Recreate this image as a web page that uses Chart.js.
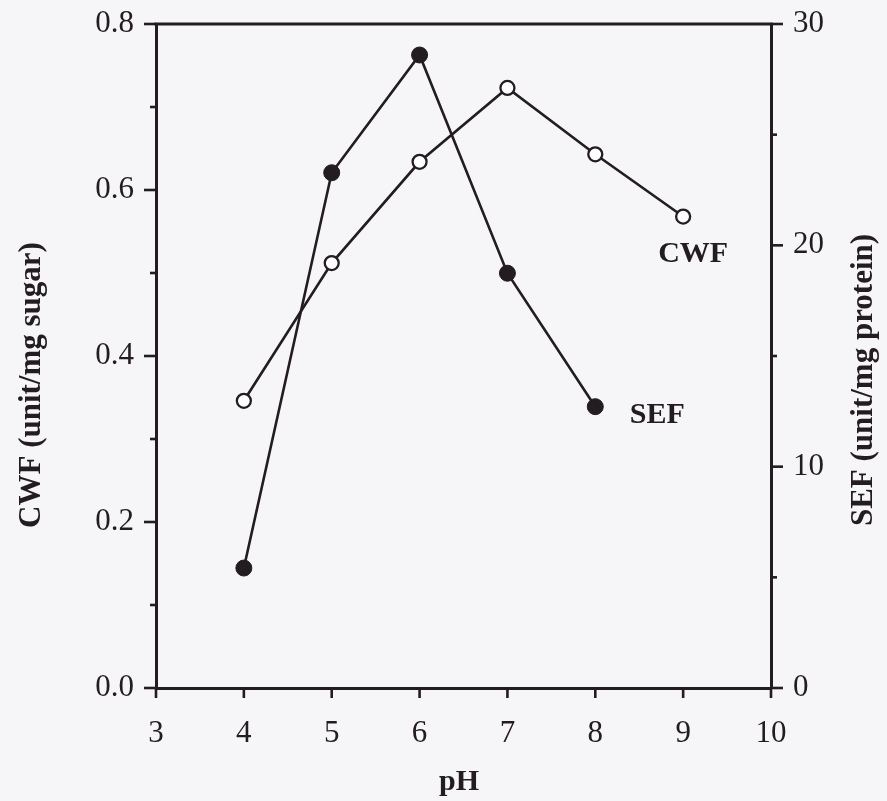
<!DOCTYPE html>
<html><head><meta charset="utf-8">
<script src="https://cdn.jsdelivr.net/npm/chart.js@4.4.1/dist/chart.umd.min.js"></script>
<style>html,body{margin:0;padding:0;background:#f6f6f8;} #wrap{width:887px;height:801px;position:relative;}</style>
</head><body><div id="wrap"><canvas id="c" width="887" height="801"></canvas></div>
<script>
// ---- data ----
const phCWF = [4, 5, 6, 7, 8, 9];
const cwfValues = [0.346, 0.512, 0.634, 0.723, 0.643, 0.568];
const phSEF = [4, 5, 6, 7, 8];
const sefValues = [5.42, 23.28, 28.6, 18.74, 12.71];
const xTickLabels = ['3', '4', '5', '6', '7', '8', '9', '10'];
const leftTickLabels = ['0.0', '0.2', '0.4', '0.6', '0.8'];
const rightTickLabels = ['0', '10', '20', '30'];
const seriesNames = ['CWF', 'SEF'];
const xTitle = 'pH';
const leftTitle = 'CWF (unit/mg sugar)';
const rightTitle = 'SEF (unit/mg protein)';

const INK = '#231c20';
const BG = '#f6f6f8';
const FONT = "'Liberation Serif', 'DejaVu Serif', serif";

const decor = {
  id: 'decor',
  beforeDraw(chart) {
    const ctx = chart.ctx;
    ctx.save();
    ctx.fillStyle = BG;
    ctx.fillRect(0, 0, chart.width, chart.height);
    ctx.restore();
  },
  afterDraw(chart) {
    const ctx = chart.ctx;
    const a = chart.chartArea;
    const xs = chart.scales.x, yl = chart.scales.y, yr = chart.scales.y2;
    ctx.save();
    ctx.strokeStyle = INK;
    ctx.lineWidth = 3;
    ctx.lineCap = 'butt';
    // top frame line
    ctx.beginPath();
    ctx.moveTo(a.left - 1.5, a.top);
    ctx.lineTo(a.right + 1.5, a.top);
    ctx.stroke();
    // ticks
    ctx.lineWidth = 2.6;
    yl.ticks.forEach(t => {
      const k = Math.round(t.value * 10);
      const len = k % 2 === 0 ? 12 : 6;
      const py = yl.getPixelForValue(t.value);
      ctx.beginPath(); ctx.moveTo(a.left, py); ctx.lineTo(a.left - len, py); ctx.stroke();
    });
    yr.ticks.forEach(t => {
      const k = Math.round(t.value / 5);
      const len = k % 2 === 0 ? 12 : 6;
      const py = yr.getPixelForValue(t.value);
      ctx.beginPath(); ctx.moveTo(a.right, py); ctx.lineTo(a.right + len, py); ctx.stroke();
    });
    xs.ticks.forEach(t => {
      const px = xs.getPixelForValue(t.value);
      ctx.beginPath(); ctx.moveTo(px, a.bottom); ctx.lineTo(px, a.bottom + 10); ctx.stroke();
    });
    // axis titles
    ctx.fillStyle = INK;
    ctx.font = "bold 30px " + FONT;
    ctx.textAlign = 'center';
    ctx.textBaseline = 'middle';
    ctx.fillText(xTitle, 459, 782);
    ctx.font = "bold 31px " + FONT;
    ctx.save();
    ctx.translate(32, 385); ctx.rotate(-Math.PI / 2);
    ctx.fillText(leftTitle, 0, 0);
    ctx.restore();
    ctx.save();
    ctx.translate(864, 380); ctx.rotate(-Math.PI / 2);
    ctx.fillText(rightTitle, 0, 0);
    ctx.restore();
    // series labels near last points
    ctx.font = "bold 30px " + FONT;
    const lastC = chart.getDatasetMeta(0).data[phCWF.length - 1];
    const lastS = chart.getDatasetMeta(1).data[phSEF.length - 1];
    ctx.fillText(seriesNames[0], lastC.x + 10, lastC.y + 38);
    ctx.fillText(seriesNames[1], lastS.x + 62, lastS.y + 9);
    ctx.restore();
  }
};

function zeroPad(s) { s.paddingTop = 0; s.paddingBottom = 0; s.paddingLeft = 0; s.paddingRight = 0; }

new Chart(document.getElementById('c'), {
  type: 'line',
  data: {
    datasets: [
      {
        label: seriesNames[0],
        data: phCWF.map((x, i) => ({ x: x, y: cwfValues[i] })),
        yAxisID: 'y',
        borderColor: INK, borderWidth: 2.6,
        pointBackgroundColor: '#ffffff', pointBorderColor: INK,
        pointBorderWidth: 2.3, pointRadius: 7, tension: 0
      },
      {
        label: seriesNames[1],
        data: phSEF.map((x, i) => ({ x: x, y: sefValues[i] })),
        yAxisID: 'y2',
        borderColor: INK, borderWidth: 2.6,
        pointBackgroundColor: INK, pointBorderColor: INK,
        pointBorderWidth: 1, pointRadius: 8, tension: 0
      }
    ]
  },
  options: {
    responsive: false,
    animation: false,
    events: [],
    layout: { padding: { top: 24, left: 0, right: 0, bottom: 0 } },
    plugins: { legend: { display: false }, tooltip: { enabled: false } },
    scales: {
      x: {
        type: 'linear', min: 3, max: 10,
        grid: { display: true, drawOnChartArea: false, drawTicks: true, tickLength: 10, tickColor: 'rgba(0,0,0,0)' },
        border: { display: true, color: INK, width: 3 },
        ticks: {
          stepSize: 1, padding: 17, color: INK, font: { family: FONT, size: 31 },
          maxRotation: 0, autoSkip: false,
          callback: v => xTickLabels[Math.round(v) - 3] ?? ''
        },
        afterFit: s => { s.height = 113; zeroPad(s); }
      },
      y: {
        position: 'left', min: 0, max: 0.8,
        grid: { display: true, drawOnChartArea: false, drawTicks: true, tickLength: 12, tickColor: 'rgba(0,0,0,0)' },
        border: { display: true, color: INK, width: 3 },
        ticks: {
          stepSize: 0.1, padding: 10, color: INK, font: { family: FONT, size: 31 }, autoSkip: false,
          callback: v => { const k = Math.round(v * 10); return k % 2 === 0 ? leftTickLabels[k / 2] : ''; }
        },
        afterFit: s => { s.width = 156; zeroPad(s); }
      },
      y2: {
        position: 'right', min: 0, max: 30,
        grid: { display: true, drawOnChartArea: false, drawTicks: true, tickLength: 12, tickColor: 'rgba(0,0,0,0)' },
        border: { display: true, color: INK, width: 3 },
        ticks: {
          stepSize: 5, padding: 10, color: INK, font: { family: FONT, size: 31 }, autoSkip: false,
          callback: v => { const k = Math.round(v / 5); return k % 2 === 0 ? rightTickLabels[k / 2] : ''; }
        },
        afterFit: s => { s.width = 116; zeroPad(s); }
      }
    }
  },
  plugins: [decor]
});
</script>
</body></html>
